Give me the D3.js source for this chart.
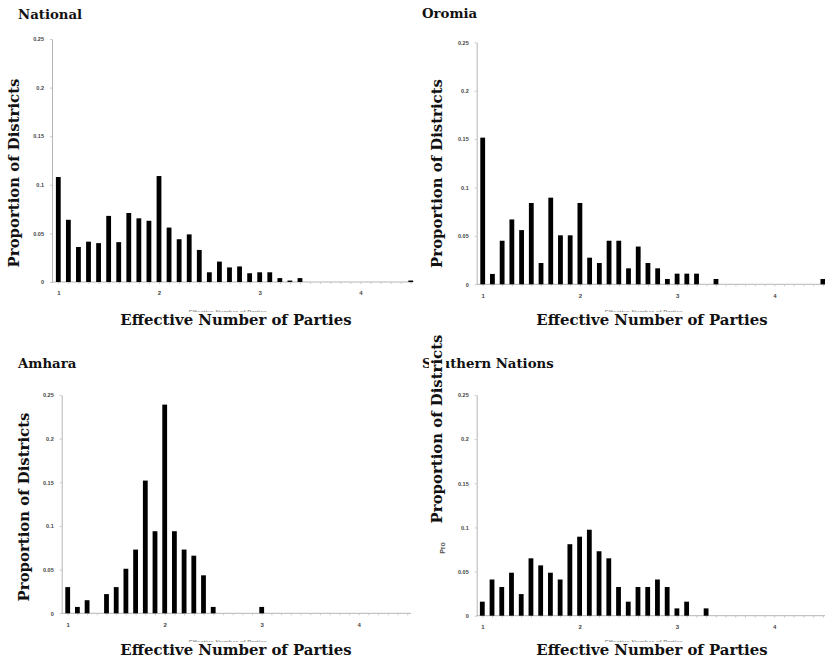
<!DOCTYPE html>
<html>
<head>
<meta charset="utf-8">
<script src="https://cdn.jsdelivr.net/npm/d3@7"></script>
<style>
  body { margin: 0; background: #fff; }
  .big { font-family: "DejaVu Serif", serif; font-weight: bold; fill: #111; }
  .tick text { font-family: Arial, "Liberation Sans", sans-serif; font-weight: bold; fill: #444; }
</style>
</head>
<body>
<div id="plot"></div>
<script>
// bin centres (effective number of parties)
const bins = [1.0, 1.1, 1.2, 1.3, 1.4, 1.5, 1.6, 1.7, 1.8, 1.9,
              2.0, 2.1, 2.2, 2.3, 2.4, 2.5, 2.6, 2.7, 2.8, 2.9,
              3.0, 3.1, 3.2, 3.3, 3.4, 3.5, 3.6, 3.7, 3.8, 3.9,
              4.0, 4.1, 4.2, 4.3, 4.4, 4.5];

const national = [0.108, 0.064, 0.036, 0.0415, 0.040, 0.068, 0.041, 0.071, 0.0655, 0.063,
                  0.109, 0.056, 0.044, 0.049, 0.033, 0.010, 0.021, 0.015, 0.016, 0.009,
                  0.010, 0.010, 0.004, 0.0015, 0.004, 0, 0, 0, 0, 0,
                  0, 0, 0, 0, 0, 0.0015];
const oromia = [0.1515, 0.0107, 0.045, 0.067, 0.056, 0.084, 0.022, 0.0895, 0.0506, 0.0506,
                0.084, 0.0275, 0.022, 0.045, 0.045, 0.0165, 0.039, 0.022, 0.0165, 0.0055,
                0.011, 0.011, 0.011, 0, 0.0055, 0, 0, 0, 0, 0,
                0, 0, 0, 0, 0, 0.0055];
const amhara = [0.030, 0.0073, 0.015, 0, 0.022, 0.030, 0.051, 0.073, 0.152, 0.094,
                0.239, 0.094, 0.073, 0.066, 0.0435, 0.0073, 0, 0, 0, 0,
                0.0073, 0, 0, 0, 0, 0, 0, 0, 0, 0,
                0, 0, 0, 0, 0, 0];
const southern = [0.0159, 0.041, 0.0325, 0.0487, 0.0245, 0.065, 0.057, 0.0487, 0.041, 0.081,
                  0.0895, 0.0974, 0.073, 0.065, 0.0325, 0.0159, 0.0325, 0.0325, 0.041, 0.0325,
                  0.0083, 0.0159, 0, 0.0083, 0, 0, 0, 0, 0, 0,
                  0, 0, 0, 0, 0, 0];

const titles = ['National', 'Oromia', 'Amhara', 'Southern Nations'];
const yTicks = [0, 0.05, 0.1, 0.15, 0.2, 0.25];
const xTicks = [1, 2, 3, 4];
const xTitle = 'Effective Number of Parties';
const yTitle = 'Proportion of Districts';

const svg = d3.select('#plot').append('svg')
    .attr('width', 825)
    .attr('height', 661);

// hand-measured placement of each panel
const panels = [
  {title: titles[0], values: national, axisX: 52, x1: 58.3, ppu: 100.7, y0: 282, yTop: 39, xEnd: 413,
   tx: 18, ty: 19, ylx: 19, yly: 173, xlx: 236, xly: 325},
  {title: titles[1], values: oromia, axisX: 476.7, x1: 482.7, ppu: 97.2, y0: 284.3, yTop: 42.3, xEnd: 825,
   tx: 422, ty: 18, ylx: 442, yly: 173.5, xlx: 652, xly: 325},
  {title: titles[2], values: amhara, axisX: 61.7, x1: 67.7, ppu: 97, y0: 613.3, yTop: 395, xEnd: 411,
   tx: 18, ty: 368, ylx: 29, yly: 507, xlx: 236, xly: 655},
  {title: titles[3], values: southern, axisX: 476.7, x1: 482.3, ppu: 97.3, y0: 615.7, yTop: 395, xEnd: 825,
   tx: 422, ty: 368, ylx: 442, yly: 429, xlx: 652, xly: 655},
];

// draws a label and blanks out what is behind it with a white box
function boxedLabel(g, attrs) {
  const box = g.append('rect').attr('fill', '#fff');
  const t = g.append('text')
      .attr('class', 'big')
      .attr('text-anchor', 'middle')
      .style('font-size', '14.9px')
      .attr('transform', attrs.transform)
      .text(attrs.text);
  const bb = t.node().getBBox();
  box.attr('x', bb.x - 1)
      .attr('y', bb.y + 1)
      .attr('width', bb.width + 2)
      .attr('height', bb.height - 1)
      .attr('transform', attrs.transform);
}

panels.forEach(p => {
  const g = svg.append('g');

  const x = d3.scaleLinear()
      .domain([1, 4])
      .range([p.x1, p.x1 + 3 * p.ppu]);
  const y = d3.scaleLinear()
      .domain([0, 0.25])
      .range([p.y0, p.yTop]);

  // title
  g.append('text')
      .attr('class', 'big')
      .attr('x', p.tx)
      .attr('y', p.ty)
      .style('font-size', '13.3px')
      .text(p.title);

  // y axis
  const yAxis = d3.axisLeft(y)
      .tickValues(yTicks)
      .tickSize(2)
      .tickSizeOuter(0)
      .tickPadding(6)
      .tickFormat(d3.format('~g'));
  const ya = g.append('g')
      .attr('transform', `translate(${p.axisX},0)`)
      .call(yAxis);
  ya.select('.domain').attr('stroke', '#b5b5b5');
  ya.selectAll('.tick line').attr('stroke', '#c8c8c8');
  ya.selectAll('.tick text').style('font-size', '5.5px');

  // x axis: minor ticks at every bin, labels on whole numbers
  const xa = g.append('g')
      .attr('transform', `translate(0,${p.y0})`);
  xa.append('line')
      .attr('x1', p.axisX)
      .attr('x2', p.xEnd)
      .attr('stroke', '#b5b5b5');
  xa.append('g')
      .call(d3.axisBottom(x).tickValues(bins).tickSize(2).tickFormat(''))
      .call(a => a.select('.domain').remove())
      .selectAll('.tick line').attr('stroke', '#c8c8c8');
  xa.append('g')
      .call(d3.axisBottom(x).tickValues(xTicks).tickSize(0).tickPadding(9).tickFormat(d3.format('d')))
      .call(a => a.select('.domain').remove())
      .selectAll('.tick text').style('font-size', '6px');

  // bars
  g.selectAll('.bar')
      .data(bins.map((b, i) => ({b, v: p.values[i]})).filter(d => d.v > 0))
      .enter()
      .append('rect')
      .attr('x', d => x(d.b) - 2.4)
      .attr('width', 4.8)
      .attr('y', d => y(d.v))
      .attr('height', d => y(0) - y(d.v))
      .attr('fill', '#000');

  // faint small axis title left over underneath the big one
  g.append('text')
      .attr('x', p.xlx - 8)
      .attr('y', p.xly - 11)
      .attr('text-anchor', 'middle')
      .style('font-family', 'Arial, sans-serif')
      .style('font-weight', 'bold')
      .style('font-size', '6px')
      .attr('fill', '#999')
      .text(xTitle);

  // big axis titles
  boxedLabel(g, {transform: `translate(${p.xlx},${p.xly})`, text: xTitle});
  boxedLabel(g, {transform: `translate(${p.ylx},${p.yly}) rotate(-90)`, text: yTitle});
});

// stray small label in the southern panel
svg.append('text')
    .attr('transform', 'translate(445,548) rotate(-90)')
    .attr('text-anchor', 'middle')
    .style('font-family', 'Arial, sans-serif')
    .style('font-weight', 'bold')
    .style('font-size', '7px')
    .attr('fill', '#555')
    .text('Pro');
</script>
</body>
</html>
